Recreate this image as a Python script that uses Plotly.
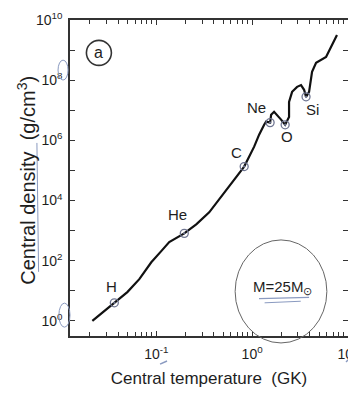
import math
import plotly.graph_objects as go

# Central temperature (GK) and central density (g/cm^3) along the evolutionary track
temp_gk = [0.02153, 0.02805, 0.03651, 0.04989, 0.06653, 0.08872, 0.1127, 0.1365,
           0.1959, 0.2612, 0.3565, 0.4529, 0.6039, 0.8260, 1.050, 1.183, 1.334,
           1.400, 1.540, 1.578, 1.694, 1.820, 2.004, 2.208, 2.427, 2.427, 2.612,
           2.944, 3.236, 3.483, 3.652, 3.926, 4.121, 4.217, 4.645, 5.902, 7.674]
density = [1.0, 2.0, 4.0, 9.1, 24.5, 89, 209, 417,
           813, 1622, 4074, 1.1e4, 3.47e4, 1.35e5, 6.2e5, 1.55e6, 3.3e6,
           4.2e6, 3.9e6, 7.1e6, 8.9e6, 7.1e6, 4.9e6, 3.3e6, 6.0e6, 1.9e7, 4.1e7,
           6.0e7, 6.9e7, 4.8e7, 2.8e7, 4.1e7, 1.17e8, 1.9e8, 3.8e8, 5.9e8, 3.2e9]

# Ignition points of burning stages
stage_names = ["H", "He", "C", "Ne", "O", "Si"]
stage_temp = [0.0365, 0.196, 0.826, 1.54, 2.21, 3.65]
stage_density = [4.0, 813, 1.35e5, 3.9e6, 3.3e6, 2.8e7]
label_shift = [(-3, 16), (-7, 19), (-8, 14), (-14, 15), (2, -12), (6, -13)]

x_major = [0.1, 1, 10]
x_minor = [m * d for d in (0.01, 0.1, 1) for m in range(2, 10)]
y_ticks = [10.0 ** k for k in range(0, 11)]
y_text = [f"10<sup>{k}</sup>" if k % 2 == 0 else "" for k in range(0, 11)]

FONT = "Liberation Sans, Arial, sans-serif"
INK = "#1e1e1e"
PEN = "#8a9ac0"

fig = go.Figure()
fig.add_trace(go.Scatter(x=temp_gk, y=density, mode="lines",
                         line=dict(color="#111111", width=2.2), showlegend=False))
fig.add_trace(go.Scatter(x=stage_temp, y=stage_density, mode="markers",
                         marker=dict(symbol="circle-open-dot", size=8,
                                     color="#6f7591", line=dict(width=1.3)),
                         showlegend=False))

for n, tx, ty, (dx, dy) in zip(stage_names, stage_temp, stage_density, label_shift):
    fig.add_annotation(x=math.log10(tx), y=math.log10(ty), xref="x", yref="y", text=n,
                       showarrow=False, xshift=dx, yshift=dy,
                       xanchor="center", yanchor="middle",
                       font=dict(size=15, color=INK, family=FONT))

# plot area: 278 px wide, 316 px tall
fig.add_annotation(x=0.104, y=0.896, xref="paper", yref="paper", text="a",
                   showarrow=False, xanchor="center", yanchor="middle",
                   font=dict(size=16, color=INK, family=FONT))
fig.add_shape(type="circle", xref="paper", yref="paper",
              x0=0.104 - 12.5 / 278, x1=0.104 + 12.5 / 278,
              y0=0.896 - 12.5 / 316, y1=0.896 + 12.5 / 316,
              line=dict(color="#333", width=1.6))

fig.add_annotation(x=0.766, y=0.155, xref="paper", yref="paper",
                   text="M=25M<sub>⊙</sub>", showarrow=False,
                   xanchor="center", yanchor="middle",
                   font=dict(size=15, color=INK, family=FONT))

# y-axis title as a rotated annotation for exact placement
fig.add_annotation(x=-0.155, y=0.494, xref="paper", yref="paper",
                   text="Central density  (g/cm<sup>3</sup>)", textangle=-90,
                   showarrow=False, xanchor="center", yanchor="middle",
                   font=dict(size=20, color=INK, family=FONT))

# hand-drawn marks on the original figure
fig.add_shape(type="circle", xref="paper", yref="paper",
              x0=0.594, x1=0.924, y0=-0.022, y1=0.304,
              line=dict(color="#666", width=1))
fig.add_shape(type="line", xref="paper", yref="paper",
              x0=0.68, x1=0.86, y0=0.118, y1=0.122, line=dict(color=PEN, width=1.2))
fig.add_shape(type="line", xref="paper", yref="paper",
              x0=0.70, x1=0.83, y0=0.105, y1=0.11, line=dict(color=PEN, width=1))
fig.add_shape(type="line", xref="paper", yref="paper",
              x0=-0.119, x1=-0.113, y0=0.611, y1=0.203, line=dict(color=PEN, width=1))
fig.add_shape(type="circle", xref="paper", yref="paper",
              x0=-0.043, x1=-0.007, y0=0.810, y1=0.873, line=dict(color=PEN, width=1))
fig.add_shape(type="circle", xref="paper", yref="paper",
              x0=-0.040, x1=0.0, y0=0.028, y1=0.104, line=dict(color=PEN, width=1))
fig.add_shape(type="line", xref="paper", yref="paper",
              x0=0.324, x1=0.349, y0=-0.089, y1=-0.079, line=dict(color=PEN, width=1.5))
fig.add_shape(type="line", xref="paper", yref="paper",
              x0=0.993, x1=1.018, y0=-0.082, y1=-0.060, line=dict(color=PEN, width=1.5))

axis_common = dict(type="log", showgrid=False, zeroline=False, showline=True,
                   linecolor="#333", linewidth=1.5, mirror="ticks", ticks="inside",
                   tickcolor="#333", tickwidth=1.2, ticklen=5, automargin=False,
                   tickfont=dict(size=14, color=INK, family=FONT))

fig.update_xaxes(**axis_common, range=[-1.9, 1.0], tickvals=x_major,
                 ticktext=["10<sup>-1</sup>", "10<sup>0</sup>", "10<sup>1</sup>"],
                 ticklabelstandoff=4, ticklabeloverflow="allow",
                 minor=dict(tickvals=x_minor, ticks="inside", ticklen=4, tickcolor="#333"),
                 title=dict(text="Central temperature  (GK)", standoff=12,
                            font=dict(size=17, color=INK, family=FONT)))
fig.update_yaxes(**axis_common, range=[-0.5, 10], tickvals=y_ticks, ticktext=y_text,
                 ticklabelstandoff=3)

# the page adds an 8 px body margin, so the figure is 8 px smaller than the window
fig.update_layout(width=348, height=389, margin=dict(l=62, r=8, t=12, b=61),
                  paper_bgcolor="white", plot_bgcolor="white")
fig.write_html("out.html")
